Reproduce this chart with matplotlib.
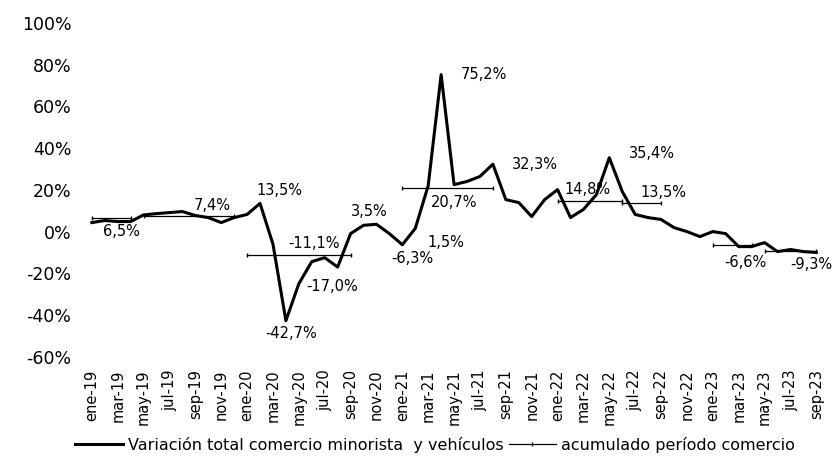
import numpy as np
import matplotlib
matplotlib.use("Agg")
import matplotlib.pyplot as plt
from matplotlib.ticker import FuncFormatter

# variación mensual, ene-19 a sep-23 (%)
meses = ["ene", "feb", "mar", "abr", "may", "jun", "jul", "ago", "sep", "oct", "nov", "dic"]
periodos = [f"{m}-{a}" for a in range(19, 24) for m in meses][:57]

variacion = [4.3, 5.3, 4.8, 4.8, 8.0, 8.6, 9.1, 9.6, 7.7, 6.7, 4.3, 6.7,
             8.2, 13.5, -6.0, -42.7, -25.0, -14.4, -12.5, -17.0, -1.0, 3.0, 3.5, -1.0,
             -6.3, 1.5, 22.0, 75.2, 22.5, 24.0, 26.4, 32.3, 15.3, 13.9, 7.2, 15.3,
             20.1, 6.7, 10.6, 17.7, 35.4, 19.2, 8.2, 6.7, 5.8, 1.9, 0.0, -2.4,
             0.0, -1.0, -7.2, -7.2, -5.3, -9.6, -8.6, -9.6, -10.0]

# acumulado por período: mes inicial, mes final, valor
acum_inicio = [0, 4, 12, 24, 36, 41, 48, 52]
acum_fin = [3, 11, 20, 31, 41, 44, 51, 56]
acum_valor = [6.5, 7.4, -11.1, 20.7, 14.8, 13.5, -6.6, -9.3]

# etiquetas de la serie mensual: índice y desplazamiento (pt)
etq_idx = [13, 15, 19, 22, 24, 25, 27, 31, 40]
etq_off = [(14, 9), (4, -9), (-4, -14), (-5, 9), (7, -10), (22, -10), (14, 0), (14, 0), (14, 3)]
etq_ha = ["center", "center", "center", "center", "center", "center", "left", "left", "left"]

# etiquetas del acumulado: posición en x y desplazamiento vertical (pt)
acum_etq_x = [2.3, 9.3, 17.2, 28.0, 38.3, 44.2, 50.5, 55.6]
acum_etq_dy = [-10, 8, 8, -10, 8, 8, -12, -10]

fig = plt.figure(figsize=(8.37, 4.67), dpi=100)
ax = fig.add_axes([0.102, 0.236, 0.881, 0.715])

x = np.arange(len(variacion))
ax.plot(x, variacion, color="black", lw=2.2,
        label="Variación total comercio minorista  y vehículos", zorder=3)

for k, (a, b, v) in enumerate(zip(acum_inicio, acum_fin, acum_valor)):
    ax.plot([a, b], [v, v], color="black", lw=0.9, marker="|", markersize=3,
            label="acumulado período comercio" if k == 0 else None, zorder=2)

def fmt(v):
    return f"{v:.1f}%".replace(".", ",")

for i, (dx, dy), ha in zip(etq_idx, etq_off, etq_ha):
    ax.annotate(fmt(variacion[i]), (i, variacion[i]), xytext=(dx, dy),
                textcoords="offset points", ha=ha, va="center", fontsize=10.5)

for xe, v, dy in zip(acum_etq_x, acum_valor, acum_etq_dy):
    ax.annotate(fmt(v), (xe, v), xytext=(0, dy), textcoords="offset points",
                ha="center", va="center", fontsize=10.5, annotation_clip=False)

ax.set_xlim(-0.5, 56.5)
ax.set_ylim(-60, 100)
ax.set_yticks(np.arange(-60, 101, 20))
ax.yaxis.set_major_formatter(FuncFormatter(lambda v, p: f"{v:.0f}%"))
ax.set_xticks(x[::2])
ax.set_xticklabels(periodos[::2], rotation=90, fontsize=10.5)
ax.tick_params(axis="y", labelsize=12.5, length=0, pad=10)
ax.tick_params(axis="x", length=0, pad=9)
for s in ax.spines.values():
    s.set_visible(False)

fig.legend(loc="lower center", bbox_to_anchor=(0.52, 0.0), ncol=2, frameon=False,
           fontsize=11.5, handlelength=3, columnspacing=0.3, handletextpad=0.3)

fig.savefig("out.png", dpi=100)
